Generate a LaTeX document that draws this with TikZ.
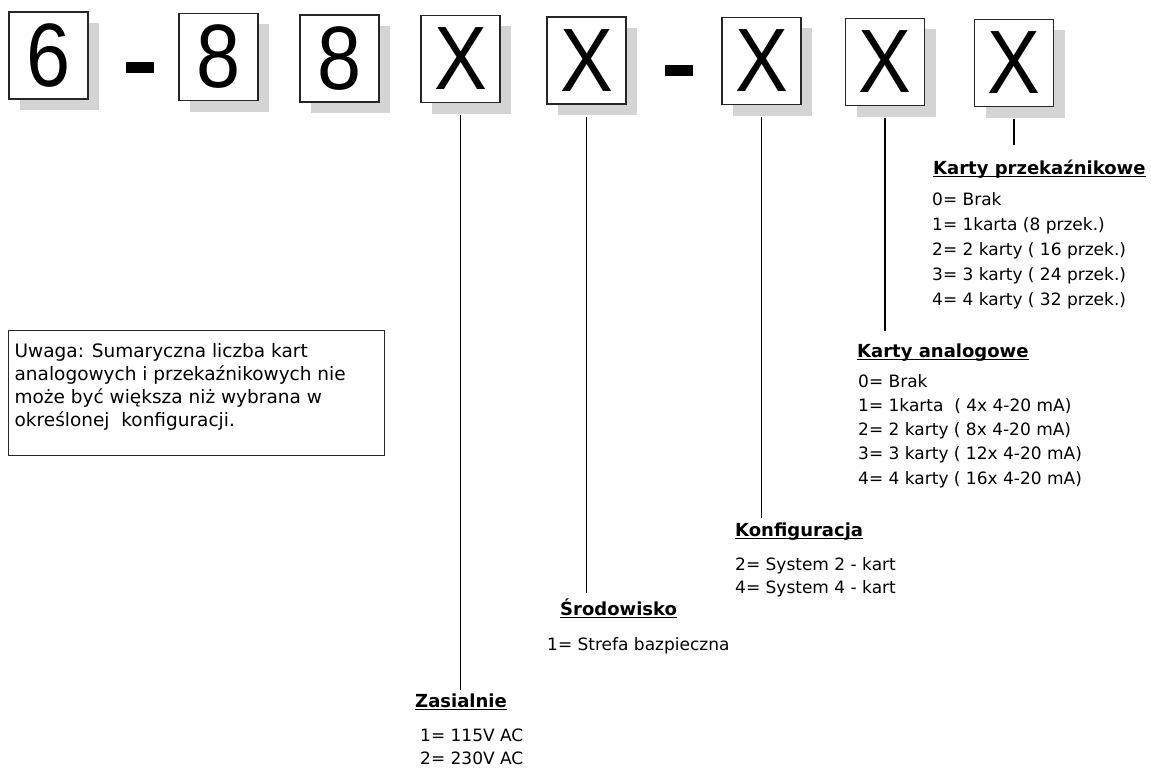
\documentclass[tikz,border=0pt]{standalone}
\usepackage{fontspec}
\setmainfont{DejaVu Sans}
\newfontfamily\digitfont[FakeStretch=0.88]{Liberation Sans}
\usetikzlibrary{
  positioning,
  shadows,
}
\tikzset{
  codebox/.style={draw=black!85, line width=1.6pt, fill=white,
    minimum width=79pt, minimum height=87pt, inner sep=0pt,
    font=\digitfont\fontsize{90}{90}\selectfont,
    drop shadow={fill=black!17, opacity=1, shadow xshift=11pt, shadow yshift=-11pt}},
  codedash/.style={fill=black, minimum width=28pt, minimum height=11pt, inner sep=0pt},
  heading/.style={font=\bfseries\fontsize{18}{18}\selectfont, inner sep=0pt, anchor=base west},
  item/.style={font=\fontsize{17}{17}\selectfont, inner sep=0pt, anchor=base west},
  note/.style={draw=black!85, line width=1.3pt, inner sep=0pt, anchor=north west,
    font=\fontsize{18.5}{23}\selectfont},
  lead/.style={line width=1.3pt},
  uline/.style={line width=1.6pt},
}

\begin{document}
\begin{tikzpicture}[x=1pt, y=-1pt]
  \useasboundingbox (0,0) rectangle (1151,768);
  % order code
  \node[codebox] (d6) at (48.5,55.5) {6};
  \node[codedash] (dashA) at (140,67.5) {};
  \node[codebox] (d8a) at (218.5,57) {8};
  \node[codebox] (d8b) at (339.5,58.5) {8};
  \node[codebox] (x1) at (460.5,59) {X};
  \node[codebox] (x2) at (586.5,60.5) {X};
  \node[codedash] (dashB) at (679,70.5) {};
  \node[codebox] (x3) at (761.5,61) {X};
  \node[codebox] (x4) at (885,62) {X};
  \node[codebox] (x5) at (1014,63) {X};

  % headings
  \node[heading] (zas) at (415,707) {Zasialnie};
  \node[heading] (srod) at (560,615) {Środowisko};
  \node[heading] (konf) at (735,536) {Konfiguracja\ };
  \node[heading] (anal) at (857,357) {Karty analogowe};
  \node[heading] (przek) at (933,174) {Karty przekaźnikowe};
  \foreach \h in {zas,srod,konf,anal,przek}
  {
    \draw[uline] ([yshift=-2.5pt]\h.base west) -- ([yshift=-2.5pt]\h.base east);
  }

  % options
  \foreach \txt [count=\i] in {1= 115V AC, 2= 230V AC}
  {
    \node[item] (zas\i) at (420,{717.5+23.5*\i}) {\txt};
  }
  \node[item] (srod1) at (547,650) {1= Strefa bazpieczna};
  \foreach \txt [count=\i] in {2= System 2 - kart, 4= System 4 - kart}
  {
    \node[item] (konf\i) at (735,{547.5+23*\i}) {\txt};
  }
  \foreach \txt [count=\i] in {0= Brak, 1= 1karta\ \ ( 4x 4-20 mA), 2= 2 karty ( 8x 4-20 mA),
      3= 3 karty ( 12x 4-20 mA), 4= 4 karty ( 16x 4-20 mA)}
  {
    \node[item] (anal\i) at (858,{363+24.2*\i}) {\txt};
  }
  \foreach \txt [count=\i] in {0= Brak, 1= 1karta (8 przek.), 2= 2 karty ( 16 przek.),
      3= 3 karty ( 24 przek.), 4= 4 karty ( 32 przek.)}
  {
    \node[item] (przek\i) at (932,{180+25*\i}) {\txt};
  }

  % leads
  \foreach \b/\h/\g in {x1/zas/3, x2/srod/5, x3/konf/4, x4/anal/12, x5/przek/14}
  {
    \draw[lead, shorten >=\g pt] ([yshift=-12pt]\b.south) -- (\b.south |- \h.north);
  }

  % note
  \node[note] (uwaga) at (8,330) {\parbox[t][125pt][t]{376pt}{\leftskip=6pt
    \vspace*{13pt}Uwaga: Sumaryczna liczba kart\\
    analogowych i przekaźnikowych nie\\
    może być większa niż wybrana w\\
    określonej\ \ konfiguracji.}};
\end{tikzpicture}
\end{document}
